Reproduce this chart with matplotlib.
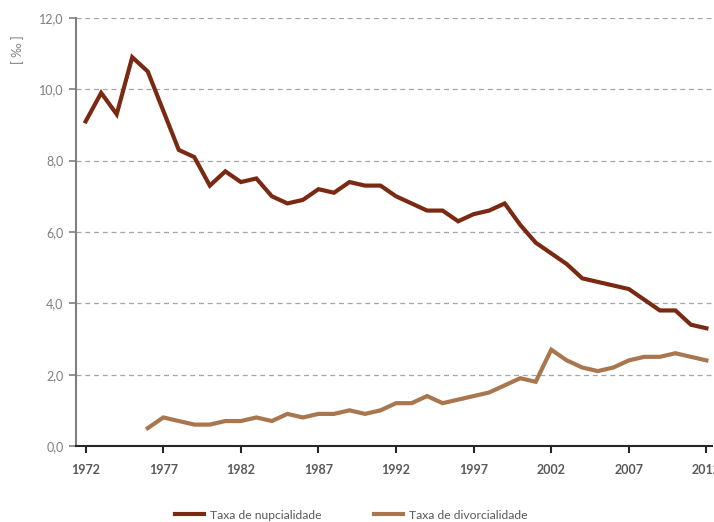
import matplotlib.pyplot as plt
from matplotlib.lines import Line2D

# Data
years = list(range(1972, 2013))

nupcialidade = [9.1, 9.9, 9.3, 10.9, 10.5, 9.4, 8.3, 8.1, 7.3, 7.7,
                7.4, 7.5, 7.0, 6.8, 6.9, 7.2, 7.1, 7.4, 7.3, 7.3,
                7.0, 6.8, 6.6, 6.6, 6.3, 6.5, 6.6, 6.8, 6.2, 5.7,
                5.4, 5.1, 4.7, 4.6, 4.5, 4.4, 4.1, 3.8, 3.8, 3.4, 3.3]

div_years = list(range(1976, 2013))
divorcialidade = [0.5, 0.8, 0.7, 0.6, 0.6, 0.7, 0.7, 0.8, 0.7, 0.9,
                  0.8, 0.9, 0.9, 1.0, 0.9, 1.0, 1.2, 1.2, 1.4, 1.2,
                  1.3, 1.4, 1.5, 1.7, 1.9, 1.8, 2.7, 2.4, 2.2, 2.1,
                  2.2, 2.4, 2.5, 2.5, 2.6, 2.5, 2.4]

xtick_years = [1972, 1977, 1982, 1987, 1992, 1997, 2002, 2007, 2012]
ytick_vals = [0, 2, 4, 6, 8, 10, 12]

c_nup = "#7a2a12"
c_div = "#a8764f"

plt.rcParams["font.family"] = ["Lato", "DejaVu Sans"]

fig = plt.figure(figsize=(7.14, 5.22), dpi=100)
ax = fig.add_axes([0.1064, 0.1456, 0.8906, 0.82])

ax.plot(years, nupcialidade, color=c_nup, linewidth=3, solid_joinstyle="miter")
ax.plot(div_years, divorcialidade, color=c_div, linewidth=3, solid_joinstyle="miter")

ax.set_xlim(1971.375, 2012.35)
ax.set_ylim(0, 12)

ax.set_yticks(ytick_vals)
ax.set_yticklabels([f"{v:.1f}".replace(".", ",") for v in ytick_vals],
                   color="#7f7f7f", fontsize=9)
ax.set_xticks(xtick_years)
ax.set_xticklabels([str(y) for y in xtick_years], color="#595959",
                   fontsize=9, fontweight="bold")

ax.yaxis.grid(True, linestyle=(0, (4, 3)), color="#a6a6a6", linewidth=0.9)
ax.set_axisbelow(True)

for s in ["top", "right"]:
    ax.spines[s].set_visible(False)
ax.spines["left"].set_color("#7f7f7f")
ax.spines["left"].set_linewidth(1.5)
ax.spines["bottom"].set_color("#262626")
ax.spines["bottom"].set_linewidth(1.5)
ax.tick_params(axis="y", length=5, width=1.2, color="#7f7f7f", pad=4)
ax.tick_params(axis="x", length=5, width=1.5, color="#262626", pad=8)

fig.text(0.025, 0.905, "[ ‰ ]", rotation=90, color="#7f7f7f", fontsize=9,
         ha="center", va="center")

handles = [Line2D([], [], color=c_nup, linewidth=3),
           Line2D([], [], color=c_div, linewidth=3)]
fig.legend(handles, ["Taxa de nupcialidade", "Taxa de divorcialidade"],
           loc="center", bbox_to_anchor=(0.492, 0.013), ncol=2, frameon=False,
           fontsize=8.7, handlelength=2.4, handletextpad=0.5,
           columnspacing=4.4, labelcolor="#595959")

fig.savefig("out.png", dpi=100)
